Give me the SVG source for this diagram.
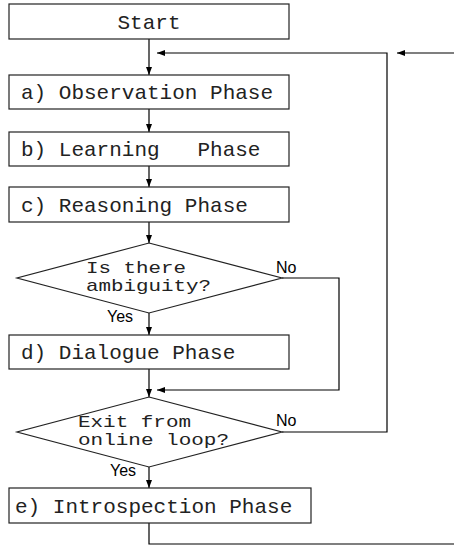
<svg xmlns="http://www.w3.org/2000/svg" width="454" height="547" viewBox="0 0 454 547">
<style>
.box{fill:#fff;stroke:#222;stroke-width:1.2}
.t{font-family:"Liberation Mono","Courier New",monospace;font-size:21px;fill:#222;white-space:pre}
.d{font-family:"Liberation Mono","Courier New",monospace;font-size:17px;fill:#222}
.l{font-family:"Liberation Sans",Arial,sans-serif;font-size:16px;fill:#000}
.c{fill:none;stroke:#000;stroke-width:1.2}
</style>
<defs>
<marker id="ah" markerWidth="8" markerHeight="6" refX="8" refY="3" orient="auto" markerUnits="userSpaceOnUse">
<path d="M0,0 L8,3 L0,6 Z" fill="#000"/>
</marker>
</defs>
<rect width="454" height="547" fill="#fff"/>
<g id="connectors">
<line class="c" x1="149" y1="39" x2="149" y2="75" marker-end="url(#ah)"/>
<line class="c" x1="149" y1="109" x2="149" y2="132" marker-end="url(#ah)"/>
<line class="c" x1="149" y1="166" x2="149" y2="187" marker-end="url(#ah)"/>
<line class="c" x1="149" y1="222" x2="149" y2="243" marker-end="url(#ah)"/>
<line class="c" x1="149" y1="313" x2="149" y2="335" marker-end="url(#ah)"/>
<line class="c" x1="149" y1="369" x2="149" y2="397" marker-end="url(#ah)"/>
<line class="c" x1="149" y1="467" x2="149" y2="488" marker-end="url(#ah)"/>
<polyline class="c" points="282,278 339,278 339,390 157,390" marker-end="url(#ah)"/>
<polyline class="c" points="282,432 387,432 387,53 157,53" marker-end="url(#ah)"/>
<line class="c" x1="454" y1="53" x2="397" y2="53" marker-end="url(#ah)"/>
<polyline class="c" points="149,523 149,544 454,544"/>
</g>
<g id="start">
<rect class="box" x="9" y="4" width="280" height="35"/>
<text class="t" x="149" y="29" text-anchor="middle">Start</text>
</g>
<g id="observation">
<rect class="box" x="9" y="75" width="280" height="34"/>
<text class="t" x="21" y="99">a) Observation Phase</text>
</g>
<g id="learning">
<rect class="box" x="9" y="132" width="280" height="34"/>
<text class="t" x="21" y="156">b) Learning   Phase</text>
</g>
<g id="reasoning">
<rect class="box" x="9" y="187" width="280" height="35"/>
<text class="t" x="21" y="212">c) Reasoning Phase</text>
</g>
<g id="ambiguity">
<polygon class="box" points="149,243 282,278 149,313 17,278"/>
<text class="d" x="86" y="273" textLength="100" lengthAdjust="spacingAndGlyphs">Is there</text>
<text class="d" x="86" y="291" textLength="125" lengthAdjust="spacingAndGlyphs">ambiguity?</text>
<text class="l" x="276" y="273">No</text>
<text class="l" x="107" y="322">Yes</text>
</g>
<g id="dialogue">
<rect class="box" x="9" y="335" width="280" height="34"/>
<text class="t" x="21" y="359">d) Dialogue Phase</text>
</g>
<g id="exit">
<polygon class="box" points="149,397 282,432 149,467 17,432"/>
<text class="d" x="78" y="427" textLength="113" lengthAdjust="spacingAndGlyphs">Exit from</text>
<text class="d" x="78" y="445" textLength="151" lengthAdjust="spacingAndGlyphs">online loop?</text>
<text class="l" x="276" y="426">No</text>
<text class="l" x="110" y="476">Yes</text>
</g>
<g id="introspection">
<rect class="box" x="9" y="488" width="302" height="35"/>
<text class="t" x="15" y="513">e) Introspection Phase</text>
</g>
</svg>
